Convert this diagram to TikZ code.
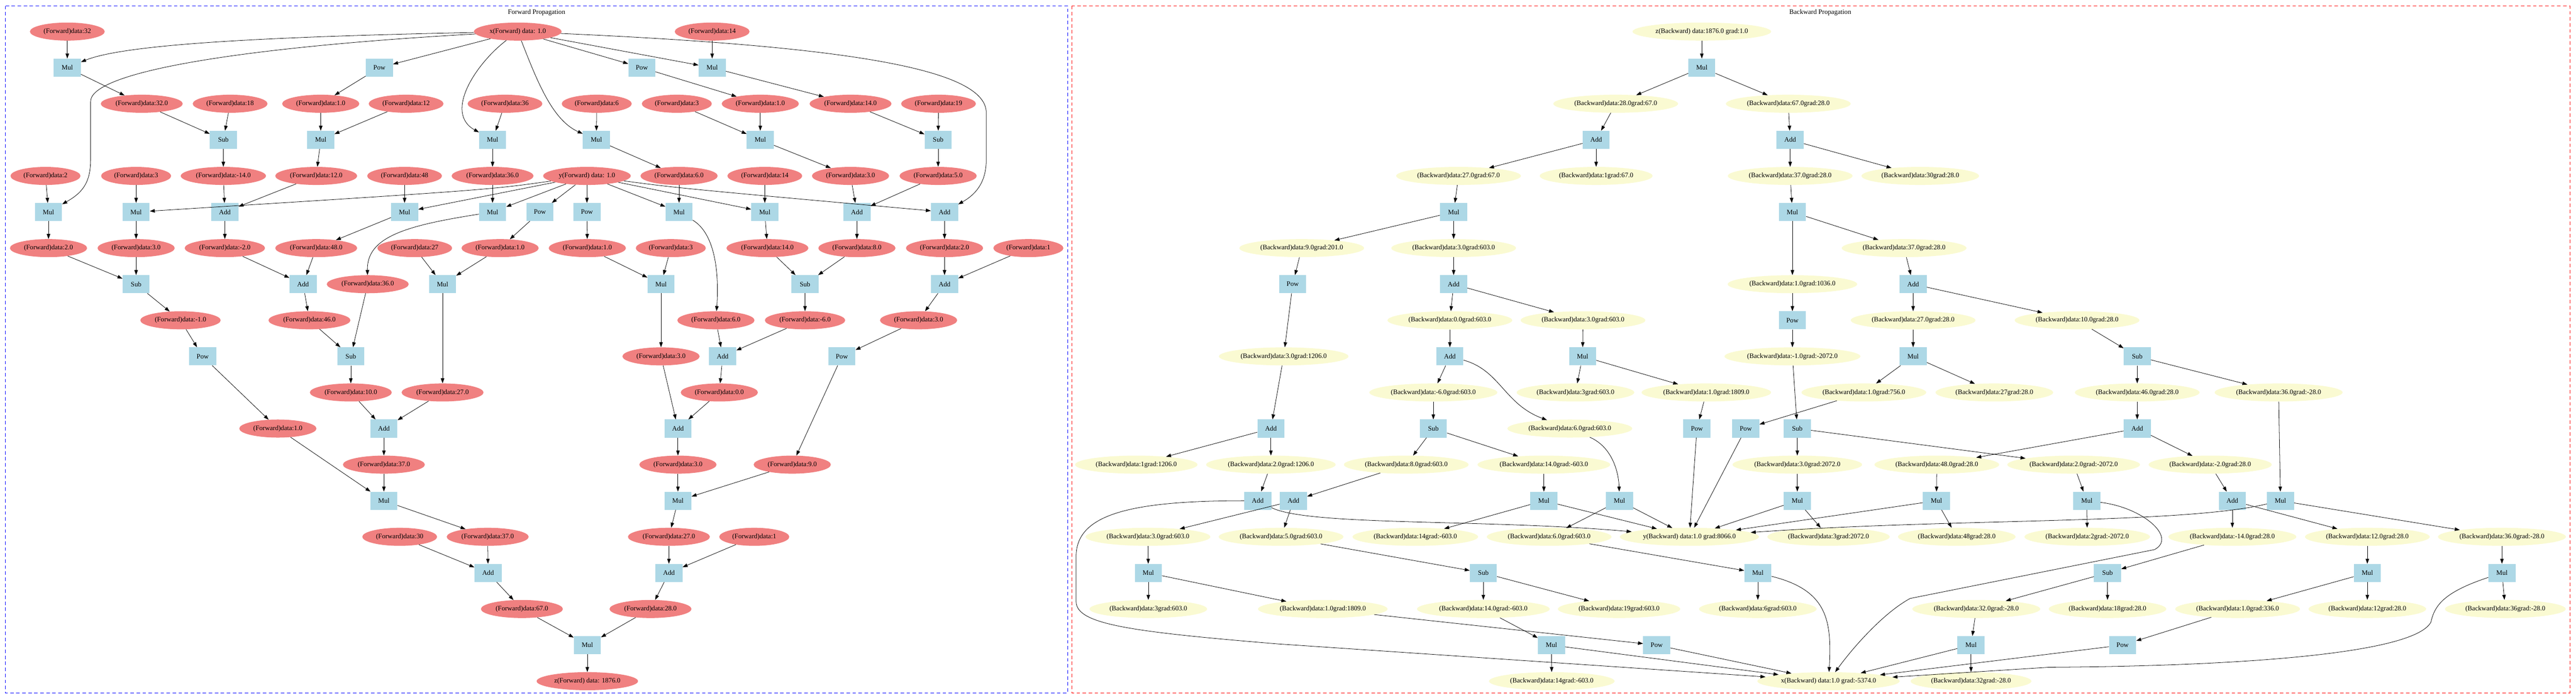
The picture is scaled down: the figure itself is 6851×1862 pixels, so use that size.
\documentclass[tikz,border=0pt]{standalone}
\usepackage{fontspec}
\setmainfont{Liberation Serif}
\usepackage{tikz}
\usetikzlibrary{positioning, arrows.meta, shapes.geometric}

\definecolor{fwdfill}{HTML}{F08080}
\definecolor{bwdfill}{HTML}{FAFAD2}
\definecolor{opfill}{HTML}{ADD8E6}

\begin{document}
\begin{tikzpicture}[x=0.75pt, y=-0.75pt,
    every node/.style={font=\fontsize{13.5}{16}\selectfont},
    fwdnode/.style={ellipse, fill=fwdfill, inner xsep=5.5pt, inner ysep=3pt, minimum height=36pt},
    bwdnode/.style={ellipse, fill=bwdfill, inner xsep=5.5pt, inner ysep=3pt, minimum height=36pt},
    opnode/.style={rectangle, fill=opfill, minimum width=54pt, minimum height=36pt},
    link/.style={draw, line width=0.8pt, -{Triangle[length=10pt, width=7pt]}},
    frame/.style={line width=1pt, dash pattern=on 7pt off 5pt}]
    \def\fdata{(Forward)data:}
    \def\bdata{(Backward)data:}
    \useasboundingbox (0,0) rectangle (6851,1862);

    % clusters
    \draw[frame, blue] (14,16) rectangle (2840,1843);
    \draw[frame, red] (2850,16) rectangle (6835,1843);
    \node (ftitle) at (1427,34) {Forward Propagation};
    \node (btitle) at (4841,34) {Backward Propagation};

    % forward propagation
    \node[fwdnode] (F32) at (179,84) {\fdata 32};
    \node[fwdnode] (X) at (1377,84) {x(Forward) data: 1.0};
    \node[fwdnode] (F14a) at (1894,84) {\fdata 14};
    \node[opnode] (Ma) at (179,180) {Mul};
    \node[opnode] (Pa) at (1009,180) {Pow};
    \node[opnode] (Pb) at (1707,180) {Pow};
    \node[opnode] (Mb) at (1894,180) {Mul};
    \node[fwdnode] (v32) at (377,276) {\fdata 32.0};
    \node[fwdnode] (F18) at (612,276) {\fdata 18};
    \node[fwdnode] (v1a) at (853,276) {\fdata 1.0};
    \node[fwdnode] (F12) at (1080,276) {\fdata 12};
    \node[fwdnode] (F36) at (1343,276) {\fdata 36};
    \node[fwdnode] (F6) at (1587,276) {\fdata 6};
    \node[fwdnode] (F3a) at (1800,276) {\fdata 3};
    \node[fwdnode] (v1b) at (2022,276) {\fdata 1.0};
    \node[fwdnode] (v14a) at (2262,276) {\fdata 14.0};
    \node[fwdnode] (F19) at (2496,276) {\fdata 19};
    \node[opnode] (Sa) at (594,372) {Sub};
    \node[opnode] (Mc) at (853,372) {Mul};
    \node[opnode] (Md) at (1310,372) {Mul};
    \node[opnode] (Me) at (1586,372) {Mul};
    \node[opnode] (Mf) at (2022,372) {Mul};
    \node[opnode] (Sb) at (2495,372) {Sub};
    \node[fwdnode] (F2) at (121,468) {\fdata 2};
    \node[fwdnode] (F3b) at (362,468) {\fdata 3};
    \node[fwdnode] (vm14) at (594,468) {\fdata -14.0};
    \node[fwdnode] (v12) at (841,468) {\fdata 12.0};
    \node[fwdnode] (F48) at (1076,468) {\fdata 48};
    \node[fwdnode] (v36a) at (1310,468) {\fdata 36.0};
    \node[fwdnode] (Y) at (1561,468) {y(Forward) data: 1.0};
    \node[fwdnode] (v6a) at (1806,468) {\fdata 6.0};
    \node[fwdnode] (F14b) at (2034,468) {\fdata 14};
    \node[fwdnode] (v3a) at (2262,468) {\fdata 3.0};
    \node[fwdnode] (v5) at (2495,468) {\fdata 5.0};
    \node[opnode] (Mg) at (129,564) {Mul};
    \node[opnode] (Mh) at (362,564) {Mul};
    \node[opnode] (Ac) at (598,564) {Add};
    \node[opnode] (Mi) at (1076,564) {Mul};
    \node[opnode] (Mj) at (1310,564) {Mul};
    \node[opnode] (Pc) at (1436,564) {Pow};
    \node[opnode] (Pd) at (1561,564) {Pow};
    \node[opnode] (Mk) at (1806,564) {Mul};
    \node[opnode] (Ml) at (2034,564) {Mul};
    \node[opnode] (Ad) at (2279,564) {Add};
    \node[opnode] (Ae) at (2512,564) {Add};
    \node[fwdnode] (v2a) at (129,660) {\fdata 2.0};
    \node[fwdnode] (v3b) at (362,660) {\fdata 3.0};
    \node[fwdnode] (vm2) at (598,660) {\fdata -2.0};
    \node[fwdnode] (v48) at (841,660) {\fdata 48.0};
    \node[fwdnode] (F27) at (1103,660) {\fdata 27};
    \node[fwdnode] (v1c) at (1330,660) {\fdata 1.0};
    \node[fwdnode] (v1d) at (1562,660) {\fdata 1.0};
    \node[fwdnode] (F3c) at (1784,660) {\fdata 3};
    \node[fwdnode] (v14b) at (2041,660) {\fdata 14.0};
    \node[fwdnode] (v8) at (2279,660) {\fdata 8.0};
    \node[fwdnode] (v2b) at (2512,660) {\fdata 2.0};
    \node[fwdnode] (F1a) at (2735,660) {\fdata 1};
    \node[opnode] (Sc) at (362,756) {Sub};
    \node[opnode] (Af) at (806,756) {Add};
    \node[fwdnode] (v36b) at (978,756) {\fdata 36.0};
    \node[opnode] (Mm) at (1177,756) {Mul};
    \node[opnode] (Mn) at (1758,756) {Mul};
    \node[opnode] (Sd) at (2141,756) {Sub};
    \node[opnode] (Ag) at (2512,756) {Add};
    \node[fwdnode] (vm1) at (480,852) {\fdata -1.0};
    \node[fwdnode] (v46) at (823,852) {\fdata 46.0};
    \node[fwdnode] (v6b) at (1904,852) {\fdata 6.0};
    \node[fwdnode] (vm6) at (2141,852) {\fdata -6.0};
    \node[fwdnode] (v3c) at (2443,852) {\fdata 3.0};
    \node[opnode] (Pe) at (539,948) {Pow};
    \node[opnode] (Se) at (933,948) {Sub};
    \node[fwdnode] (v3d) at (1758,948) {\fdata 3.0};
    \node[opnode] (Ah) at (1922,948) {Add};
    \node[opnode] (Pf) at (2239,948) {Pow};
    \node[fwdnode] (v10) at (933,1044) {\fdata 10.0};
    \node[fwdnode] (v27a) at (1177,1044) {\fdata 27.0};
    \node[fwdnode] (v0) at (1913,1044) {\fdata 0.0};
    \node[fwdnode] (v1e) at (739,1140) {\fdata 1.0};
    \node[opnode] (Ai) at (1021,1140) {Add};
    \node[opnode] (Aj) at (1803,1140) {Add};
    \node[fwdnode] (v37a) at (1021,1236) {\fdata 37.0};
    \node[fwdnode] (v3e) at (1803,1236) {\fdata 3.0};
    \node[fwdnode] (v9) at (2107,1236) {\fdata 9.0};
    \node[opnode] (Mo) at (1021,1332) {Mul};
    \node[opnode] (Mp) at (1803,1332) {Mul};
    \node[fwdnode] (F30) at (1063,1428) {\fdata 30};
    \node[fwdnode] (v37b) at (1297,1428) {\fdata 37.0};
    \node[fwdnode] (v27b) at (1779,1428) {\fdata 27.0};
    \node[fwdnode] (F1b) at (2006,1428) {\fdata 1};
    \node[opnode] (Ak) at (1298,1524) {Add};
    \node[opnode] (Al) at (1779,1524) {Add};
    \node[fwdnode] (v67) at (1388,1620) {\fdata 67.0};
    \node[fwdnode] (v28) at (1730,1620) {\fdata 28.0};
    \node[opnode] (Mq) at (1562,1716) {Mul};
    \node[fwdnode] (Z) at (1562,1812) {z(Forward) data: 1876.0};

    \foreach \a/\b in {F32/Ma, X/Pa, X/Pb, X/Mb, F14a/Mb,
        Ma/v32, Pa/v1a, Pb/v1b, Mb/v14a,
        v32/Sa, F18/Sa, v1a/Mc, F12/Mc, F36/Md, F6/Me, F3a/Mf, v1b/Mf, v14a/Sb, F19/Sb,
        Sa/vm14, Mc/v12, Md/v36a, Me/v6a, Mf/v3a, Sb/v5,
        F2/Mg, F3b/Mh, vm14/Ac, v12/Ac, F48/Mi, v36a/Mj, Y/Mi, Y/Mj, Y/Pc, Y/Pd, Y/Mk, Y/Ml,
        v6a/Mk, F14b/Ml, v3a/Ad, v5/Ad,
        Mg/v2a, Mh/v3b, Ac/vm2, Mi/v48, Pc/v1c, Pd/v1d, Ml/v14b, Ad/v8, Ae/v2b,
        v2a/Sc, v3b/Sc, vm2/Af, v48/Af, F27/Mm, v1c/Mm, v1d/Mn, F3c/Mn, v14b/Sd, v8/Sd, v2b/Ag, F1a/Ag,
        Sc/vm1, Af/v46, Mm/v27a, Mn/v3d, Sd/vm6, Ag/v3c,
        vm1/Pe, v46/Se, v36b/Se, v6b/Ah, vm6/Ah, v3c/Pf,
        Pe/v1e, Se/v10, Ah/v0, Pf/v9,
        v10/Ai, v27a/Ai, v3d/Aj, v0/Aj, Ai/v37a, Aj/v3e,
        v1e/Mo, v37a/Mo, v3e/Mp, v9/Mp, Mo/v37b, Mp/v27b,
        F30/Ak, v37b/Ak, v27b/Al, F1b/Al, Ak/v67, Al/v28,
        v67/Mq, v28/Mq, Mq/Z}
    {
    \draw[link] (\a) -- (\b);
    }
    \draw[link] (X) .. controls (700,98) and (330,118) .. (Ma);
    \draw[link] (X) .. controls (650,125) and (241,190) .. (241,270) -- (241,425) .. controls (241,490) and (215,515) .. (Mg);
    \draw[link] (X) .. controls (1265,170) and (1180,300) .. (Md);
    \draw[link] (X) .. controls (1430,220) and (1470,320) .. (Me);
    \draw[link] (X) .. controls (2300,125) and (2623,190) .. (2623,300) -- (2623,425) .. controls (2623,490) and (2590,520) .. (Ae);
    \draw[link] (Y) .. controls (1300,505) .. (Mh);
    \draw[link] (Y) .. controls (1800,500) .. (Ae);
    \draw[link] (Mj) .. controls (1080,600) and (975,630) .. (v36b);
    \draw[link] (Mk) .. controls (1900,620) and (1913,720) .. (v6b);

    % backward propagation
    \node[bwdnode] (zB) at (4526,84) {z(Backward) data:1876.0 grad:1.0};
    \node[opnode] (Bm1) at (4526,180) {Mul};
    \node[bwdnode] (b28) at (4297,276) {\bdata 28.0grad:67.0};
    \node[bwdnode] (b67) at (4756,276) {\bdata 67.0grad:28.0};
    \node[opnode] (Ba1) at (4245,372) {Add};
    \node[opnode] (Ba2) at (4761,372) {Add};
    \node[bwdnode] (b27a) at (3879,468) {\bdata 27.0grad:67.0};
    \node[bwdnode] (b1a) at (4245,468) {\bdata 1grad:67.0};
    \node[bwdnode] (b37a) at (4761,468) {\bdata 37.0grad:28.0};
    \node[bwdnode] (b30) at (5107,468) {\bdata 30grad:28.0};
    \node[opnode] (Bm2) at (3866,564) {Mul};
    \node[opnode] (Bm3) at (4767,564) {Mul};
    \node[bwdnode] (b9) at (3462,660) {\bdata 9.0grad:201.0};
    \node[bwdnode] (b3a) at (3866,660) {\bdata 3.0grad:603.0};
    \node[bwdnode] (b37b) at (5064,660) {\bdata 37.0grad:28.0};
    \node[opnode] (Bp1) at (3438,756) {Pow};
    \node[opnode] (Ba3) at (3866,756) {Add};
    \node[bwdnode] (b1b) at (4767,756) {\bdata 1.0grad:1036.0};
    \node[opnode] (Ba4) at (5088,756) {Add};
    \node[bwdnode] (b0) at (3856,852) {\bdata 0.0grad:603.0};
    \node[bwdnode] (b3b) at (4210,852) {\bdata 3.0grad:603.0};
    \node[opnode] (Bp2) at (4767,852) {Pow};
    \node[bwdnode] (b27b) at (5088,852) {\bdata 27.0grad:28.0};
    \node[bwdnode] (b10) at (5524,852) {\bdata 10.0grad:28.0};
    \node[bwdnode] (b3c) at (3414,948) {\bdata 3.0grad:1206.0};
    \node[opnode] (Ba5) at (3856,948) {Add};
    \node[opnode] (Bm4) at (4209,948) {Mul};
    \node[bwdnode] (bm1) at (4767,948) {\bdata -1.0grad:-2072.0};
    \node[opnode] (Bm5) at (5088,948) {Mul};
    \node[opnode] (Bs1) at (5684,948) {Sub};
    \node[bwdnode] (bm6) at (3812,1044) {\bdata -6.0grad:603.0};
    \node[bwdnode] (b3d) at (4190,1044) {\bdata 3grad:603.0};
    \node[bwdnode] (b1c) at (4538,1044) {\bdata 1.0grad:1809.0};
    \node[bwdnode] (b1d) at (4957,1044) {\bdata 1.0grad:756.0};
    \node[bwdnode] (b27c) at (5304,1044) {\bdata 27grad:28.0};
    \node[bwdnode] (b46) at (5684,1044) {\bdata 46.0grad:28.0};
    \node[bwdnode] (b36a) at (6060,1044) {\bdata 36.0grad:-28.0};
    \node[opnode] (Ba6) at (3380,1140) {Add};
    \node[opnode] (Bs2) at (3812,1140) {Sub};
    \node[bwdnode] (b6a) at (4175,1140) {\bdata 6.0grad:603.0};
    \node[opnode] (Bp3) at (4513,1140) {Pow};
    \node[opnode] (Bp4) at (4643,1140) {Pow};
    \node[opnode] (Bs3) at (4780,1140) {Sub};
    \node[opnode] (Ba7) at (5684,1140) {Add};
    \node[bwdnode] (b1e) at (3022,1236) {\bdata 1grad:1206.0};
    \node[bwdnode] (b2a) at (3380,1236) {\bdata 2.0grad:1206.0};
    \node[bwdnode] (b8) at (3740,1236) {\bdata 8.0grad:603.0};
    \node[bwdnode] (b14a) at (4106,1236) {\bdata 14.0grad:-603.0};
    \node[bwdnode] (b3e) at (4780,1236) {\bdata 3.0grad:2072.0};
    \node[bwdnode] (b48a) at (5151,1236) {\bdata 48.0grad:28.0};
    \node[bwdnode] (b2b) at (5515,1236) {\bdata 2.0grad:-2072.0};
    \node[bwdnode] (bm2) at (5878,1236) {\bdata -2.0grad:28.0};
    \node[opnode] (Ba8) at (3345,1332) {Add};
    \node[opnode] (Ba9) at (3440,1332) {Add};
    \node[opnode] (Bm6) at (4106,1332) {Mul};
    \node[opnode] (Bm7) at (4307,1332) {Mul};
    \node[opnode] (Bm8) at (4780,1332) {Mul};
    \node[opnode] (Bm9) at (5150,1332) {Mul};
    \node[opnode] (Bm10) at (5550,1332) {Mul};
    \node[opnode] (Ba10) at (5937,1332) {Add};
    \node[opnode] (Bm11) at (6065,1332) {Mul};
    \node[bwdnode] (b3f) at (3053,1428) {\bdata 3.0grad:603.0};
    \node[bwdnode] (b5) at (3407,1428) {\bdata 5.0grad:603.0};
    \node[bwdnode] (b14b) at (3764,1428) {\bdata 14grad:-603.0};
    \node[bwdnode] (b6b) at (4120,1428) {\bdata 6.0grad:603.0};
    \node[bwdnode] (yB) at (4493,1428) {y(Backward) data:1.0 grad:8066.0};
    \node[bwdnode] (b3g) at (4863,1428) {\bdata 3grad:2072.0};
    \node[bwdnode] (b48b) at (5204,1428) {\bdata 48grad:28.0};
    \node[bwdnode] (b2c) at (5551,1428) {\bdata 2grad:-2072.0};
    \node[bwdnode] (bm14) at (5937,1428) {\bdata -14.0grad:28.0};
    \node[bwdnode] (b12a) at (6296,1428) {\bdata 12.0grad:28.0};
    \node[bwdnode] (b36b) at (6654,1428) {\bdata 36.0grad:-28.0};
    \node[opnode] (Bm12) at (3054,1524) {Mul};
    \node[opnode] (Bs4) at (3945,1524) {Sub};
    \node[opnode] (Bm13) at (4675,1524) {Mul};
    \node[opnode] (Bs5) at (5605,1524) {Sub};
    \node[opnode] (Bm14) at (6296,1524) {Mul};
    \node[opnode] (Bm15) at (6654,1524) {Mul};
    \node[bwdnode] (b3h) at (3054,1620) {\bdata 3grad:603.0};
    \node[bwdnode] (b1f) at (3518,1620) {\bdata 1.0grad:1809.0};
    \node[bwdnode] (b14c) at (3945,1620) {\bdata 14.0grad:-603.0};
    \node[bwdnode] (b19) at (4306,1620) {\bdata 19grad:603.0};
    \node[bwdnode] (b6c) at (4675,1620) {\bdata 6grad:603.0};
    \node[bwdnode] (b32a) at (5256,1620) {\bdata 32.0grad:-28.0};
    \node[bwdnode] (b18) at (5605,1620) {\bdata 18grad:28.0};
    \node[bwdnode] (b1g) at (5951,1620) {\bdata 1.0grad:336.0};
    \node[bwdnode] (b12b) at (6296,1620) {\bdata 12grad:28.0};
    \node[bwdnode] (b36c) at (6663,1620) {\bdata 36grad:-28.0};
    \node[opnode] (Bm16) at (4126,1716) {Mul};
    \node[opnode] (Bp5) at (4406,1716) {Pow};
    \node[opnode] (Bm17) at (5242,1716) {Mul};
    \node[opnode] (Bp6) at (5645,1716) {Pow};
    \node[bwdnode] (b14d) at (4127,1812) {\bdata 14grad:-603.0};
    \node[bwdnode] (xB) at (4863,1812) {x(Backward) data:1.0 grad:-5374.0};
    \node[bwdnode] (b32b) at (5242,1812) {\bdata 32grad:-28.0};

    \foreach \a/\b in {zB/Bm1, Bm1/b28, Bm1/b67, b28/Ba1, b67/Ba2,
        Ba1/b27a, Ba1/b1a, Ba2/b37a, Ba2/b30,
        b27a/Bm2, b37a/Bm3, Bm2/b9, Bm2/b3a, Bm3/b1b, Bm3/b37b,
        b9/Bp1, b3a/Ba3, b37b/Ba4, b1b/Bp2,
        Bp1/b3c, Ba3/b0, Ba3/b3b, Bp2/bm1, Ba4/b27b, Ba4/b10,
        b0/Ba5, b3b/Bm4, b27b/Bm5, b10/Bs1, b3c/Ba6, bm1/Bs3,
        Ba5/bm6, Bm4/b3d, Bm4/b1c, Bm5/b1d, Bm5/b27c, Bs1/b46, Bs1/b36a,
        bm6/Bs2, b1c/Bp3, b1d/Bp4, b46/Ba7, b36a/Bm11,
        Ba6/b1e, Ba6/b2a, Bs2/b8, Bs2/b14a, Bs3/b3e, Bs3/b2b, Ba7/b48a, Ba7/bm2,
        Bp3/yB, Bp4/yB,
        b2a/Ba8, b8/Ba9, b14a/Bm6, b3e/Bm8, b48a/Bm9, b2b/Bm10, bm2/Ba10,
        Ba9/b3f, Ba9/b5, Bm6/b14b, Bm6/yB, Bm7/b6b, Bm7/yB, Bm8/b3g, Bm8/yB,
        Bm9/b48b, Bm9/yB, Bm10/b2c, Ba10/bm14, Ba10/b12a, Bm11/b36b,
        b3f/Bm12, b5/Bs4, b6b/Bm13, bm14/Bs5, b12a/Bm14, b36b/Bm15,
        Bm12/b3h, Bm12/b1f, Bs4/b14c, Bs4/b19, Bm13/b6c, Bs5/b18, Bs5/b32a,
        Bm14/b1g, Bm14/b12b, Bm15/b36c,
        b1f/Bp5, b14c/Bm16, b32a/Bm17, b1g/Bp6,
        Bm16/b14d, Bm16/xB, Bp5/xB, Bm17/b32b, Bm17/xB, Bp6/xB}
    {
    \draw[link] (\a) -- (\b);
    }
    \draw[link] (Ba5) .. controls (3990,985) and (4000,1075) .. (b6a);
    \draw[link] (b6a) .. controls (4290,1190) and (4305,1260) .. (Bm7);
    \draw[link] (Ba8) .. controls (3000,1332) and (2862,1370) .. (2862,1480) -- (2862,1600) .. controls (2862,1660) and (3000,1680) .. (3400,1713) -- (xB);
    \draw[link] (Ba8) .. controls (3480,1400) and (3950,1380) .. (yB);
    \draw[link] (Bm13) .. controls (4860,1570) and (4872,1650) .. (xB);
    \draw[link] (Bm10) .. controls (5700,1350) and (5790,1430) .. (5730,1462) -- (5080,1592) .. controls (5010,1630) and (4930,1720) .. (xB);
    \draw[link] (Bm15) .. controls (6500,1575) and (6475,1610) .. (6465,1655) .. controls (6420,1740) and (5950,1772) .. (5450,1775) -- (xB);
    \draw[link] (Bm11) .. controls (5800,1395) and (5200,1378) .. (yB);
\end{tikzpicture}
\end{document}
